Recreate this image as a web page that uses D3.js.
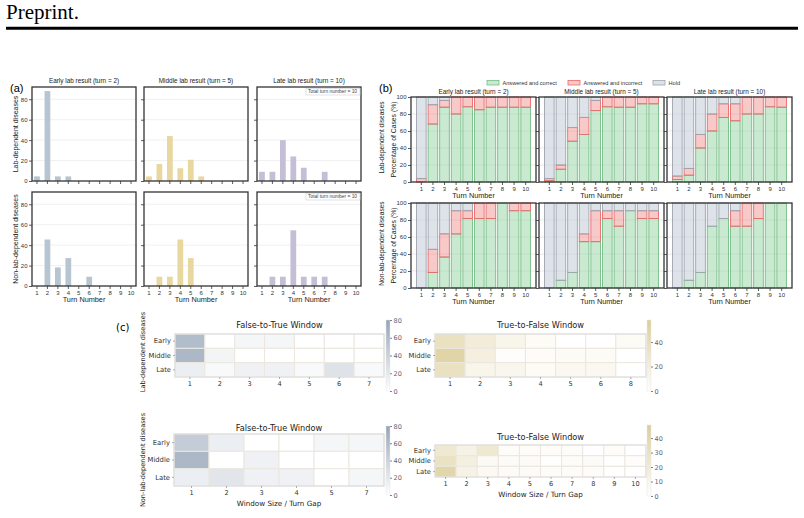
<!DOCTYPE html>
<html>
<head>
<meta charset="utf-8">
<script src="https://cdn.jsdelivr.net/npm/d3@7"></script>
<style>body{margin:0;background:#fff}</style>
</head>
<body>
<div id="chart"></div>
<script>
// ---- data ----
var turns = [1, 2, 3, 4, 5, 6, 7, 8, 9, 10];
var stages = ["Early", "Middle", "Late"];
var stageTitles = ["Early lab result (turn = 2)", "Middle lab result (turn = 5)", "Late lab result (turn = 10)"];
var groupNames = ["Lab-dependent diseases", "Non-lab-dependent diseases"];

// (a) turn of first correct answer (% of cases)
var firstLabEarly  = [4.5, 88, 4.5, 4.5, 0, 0, 0, 0, 0, 0];
var firstLabMiddle = [4.5, 16.7, 44, 12.5, 20.8, 4.5, 0, 0, 0, 0];
var firstLabLate   = [9, 9, 40, 24, 13, 0, 9, 0, 0, 0];
var firstNonEarly  = [0, 45.5, 18.2, 27.3, 0, 9.1, 0, 0, 0, 0];
var firstNonMiddle = [0, 9.1, 9.1, 45.5, 27.3, 0, 0, 0, 0, 0];
var firstNonLate   = [0, 9.1, 9.1, 54.5, 9.1, 9.1, 9.1, 0, 0, 0];

// (b) answer status per turn (%)
var labCorrect = [
  [0, 68.2, 88, 80, 88.5, 85, 88, 88, 88, 88],
  [1.5, 15, 48, 56, 84, 88.5, 88, 88, 92, 92],
  [3, 8, 40, 60, 76, 72, 80, 80, 88.5, 88]
];
var labIncorrect = [
  [4, 22.7, 8, 20, 11.5, 15, 12, 12, 12, 12],
  [2.5, 5, 16, 20, 12, 11.5, 12, 12, 8, 8],
  [4, 8, 16, 20, 16, 20, 20, 20, 11.5, 12]
];
var labHold = [
  [96, 9.1, 4, 0, 0, 0, 0, 0, 0, 0],
  [96, 80, 36, 24, 4, 0, 0, 0, 0, 0],
  [93, 84, 44, 20, 8, 8, 0, 0, 0, 0]
];
var nonCorrect = [
  [0, 18.2, 36.4, 63.6, 81.8, 81.8, 81.8, 100, 90.9, 90.9],
  [0, 9.1, 18.2, 54.5, 54.5, 81.8, 72.7, 90.9, 81.8, 81.8],
  [0, 9.1, 18.2, 72.7, 81.8, 72.7, 72.7, 81.8, 100, 100]
];
var nonIncorrect = [
  [0, 27.3, 27.3, 27.3, 9.1, 18.2, 18.2, 0, 9.1, 9.1],
  [0, 0, 0, 9.1, 36.4, 9.1, 18.2, 0, 9.1, 9.1],
  [0, 0, 0, 0, 0, 18.2, 27.3, 18.2, 0, 0]
];
var nonHold = [
  [100, 54.5, 36.3, 9.1, 9.1, 0, 0, 0, 0, 0],
  [100, 90.9, 81.8, 36.4, 9.1, 9.1, 9.1, 9.1, 9.1, 9.1],
  [100, 90.9, 81.8, 27.3, 18.2, 9.1, 0, 0, 0, 0]
];
var statusKeys = ["correct", "incorrect", "hold"];
var statusNames = ["Answered and correct", "Answered and incorrect", "Hold"];

// (c) transition windows
var ftLabCols = [1, 2, 3, 4, 5, 6, 7];
var ftLab = [[58, 0, 8, 8, 0, 0, 0], [62, 10, 0, 0, 0, 0, 0], [14, 5, 12, 12, 5, 25, 5]];
var tfLabCols = [1, 2, 3, 4, 5, 6, 8];
var tfLab = [[35, 22, 12, 5, 0, 0, 5], [50, 18, 2, 4, 5, 5, 0], [35, 12, 10, 5, 8, 8, 0]];
var ftNonCols = [1, 2, 3, 4, 5, 7];
var ftNon = [[45, 15, 0, 0, 8, 8], [62, 0, 12, 0, 0, 0], [15, 22, 12, 12, 0, 8]];
var tfNonCols = [1, 2, 3, 4, 5, 6, 7, 8, 9, 10];
var tfNon = [[22, 12, 22, 3, 3, 3, 3, 0, 3, 0], [28, 15, 5, 4, 4, 0, 3, 4, 0, 2], [40, 12, 6, 4, 4, 3, 3, 3, 0, 0]];

// ---- setup ----
var fA = "'Liberation Sans', Arial, sans-serif";
var fC = "'DejaVu Sans', sans-serif";
var svg = d3.select("#chart").append("svg")
  .attr("width", 804).attr("height", 518)
  .style("background", "#fff");

function styleAxis(sel, font, size, col) {
  sel.select(".domain").remove();
  sel.selectAll(".tick line").attr("stroke", "#333").attr("stroke-width", 0.8);
  sel.selectAll(".tick text").attr("font-family", font).attr("font-size", size).attr("fill", col || "#333");
}

// header
svg.append("text").attr("x", 6).attr("y", 18.5)
  .attr("font-family", "'Liberation Serif', serif").attr("font-size", 21)
  .text("Preprint.");
svg.append("line").attr("x1", 6).attr("x2", 798).attr("y1", 28.3).attr("y2", 28.3)
  .attr("stroke", "#000").attr("stroke-width", 3);

// ---- (a) ----
var aCols = [32, 144, 257], aRows = [87, 192], aW = 104, aH = 94;
var aColors = ["#b7c5d1", "#e9d7a0", "#c4bed6"];
var aData = [[firstLabEarly, firstLabMiddle, firstLabLate], [firstNonEarly, firstNonMiddle, firstNonLate]];
var aX = d3.scaleBand().domain(turns).range([0, aW]).paddingInner(0.45).paddingOuter(0.2);
var aY = d3.scaleLinear().domain([0, 92]).range([aH, 0]);

svg.append("text").attr("x", 10).attr("y", 92).attr("font-family", fA).attr("font-size", 11).text("(a)");

aData.forEach(function(row, r) {
  row.forEach(function(vals, c) {
    var g = svg.append("g").attr("transform", "translate(" + aCols[c] + "," + aRows[r] + ")");
    g.selectAll(".grid").data([20, 40, 60, 80]).enter().append("line")
      .attr("x1", 0).attr("x2", aW).attr("y1", aY).attr("y2", aY)
      .attr("stroke", "#ececec").attr("stroke-width", 0.8);
    g.selectAll(".bar").data(vals).enter().append("rect")
      .attr("x", function(d, i) { return aX(turns[i]); })
      .attr("y", function(d) { return aY(d); })
      .attr("width", aX.bandwidth())
      .attr("height", function(d) { return aH - aY(d); })
      .attr("fill", aColors[c]);
    var ax = d3.axisBottom(aX).tickSize(3).tickPadding(1.5);
    if (r === 0) ax.tickFormat("");
    g.append("g").attr("transform", "translate(0," + aH + ")").call(ax).call(styleAxis, fA, 6);
    var ay = d3.axisLeft(aY).tickValues([0, 20, 40, 60, 80]).tickSize(3).tickPadding(1.5);
    if (c > 0) ay.tickFormat("");
    g.append("g").call(ay).call(styleAxis, fA, 6);
    g.append("rect").attr("width", aW).attr("height", aH)
      .attr("fill", "none").attr("stroke", "#333").attr("stroke-width", 1.3);
    if (r === 0) {
      g.append("text").attr("x", aW / 2).attr("y", -4).attr("text-anchor", "middle")
        .attr("font-family", fA).attr("font-size", 6.4).attr("fill", "#222").text(stageTitles[c]);
    } else {
      g.append("text").attr("x", aW / 2).attr("y", aH + 15.5).attr("text-anchor", "middle")
        .attr("font-family", fA).attr("font-size", 7.3).attr("fill", "#222").text("Turn Number");
    }
    if (c === 2) {
      var lg = g.append("g").attr("transform", "translate(" + (aW - 55) + ",1.5)");
      lg.append("rect").attr("width", 54).attr("height", 6.5).attr("fill", "#fff")
        .attr("stroke", "#c9d1dc").attr("stroke-width", 0.6);
      lg.append("text").attr("x", 2).attr("y", 4.9).attr("font-family", fA)
        .attr("font-size", 4.9).attr("fill", "#444").text("Total turn number = 10");
    }
    if (c === 0) {
      svg.append("text").attr("transform", "translate(16," + (aRows[r] + aH / 2) + ") rotate(-90)")
        .attr("text-anchor", "middle").attr("dy", "0.35em")
        .attr("font-family", fA).attr("font-size", 7).attr("fill", "#222").text(groupNames[r]);
    }
  });
});

// ---- (b) ----
var bCols = [411, 539, 667], bRows = [97, 203], bW = 125, bH = 85;
var bX = d3.scaleBand().domain(turns).range([0, bW]).paddingInner(0.1).paddingOuter(0.44);
var bY = d3.scaleLinear().domain([0, 100]).range([bH, 0]);
var bFill = { correct: "#93d3a1", incorrect: "#f08e8e", hold: "#c3ccd9" };
var bEdge = { correct: "#76bd86", incorrect: "#e86b6b", hold: "#9ea4ae" };
var bOpacity = { correct: 0.5, incorrect: 0.48, hold: 0.55 };
var bData = [[labCorrect, labIncorrect, labHold], [nonCorrect, nonIncorrect, nonHold]];
var stack = d3.stack().keys(statusKeys);

svg.append("text").attr("x", 379).attr("y", 92).attr("font-family", fA).attr("font-size", 11).text("(b)");

// legend
var legX = [487, 568, 653];
statusKeys.forEach(function(k, i) {
  svg.append("rect").attr("x", legX[i]).attr("y", 80.5).attr("width", 12).attr("height", 4.5)
    .attr("fill", bFill[k]).attr("fill-opacity", bOpacity[k])
    .attr("stroke", bEdge[k]).attr("stroke-width", 0.8);
  svg.append("text").attr("x", legX[i] + 15.5).attr("y", 85).attr("font-family", fA)
    .attr("font-size", 5.6).attr("fill", "#333").text(statusNames[i]);
});

bData.forEach(function(grp, r) {
  stages.forEach(function(s, c) {
    var rows = turns.map(function(t, i) {
      return { turn: t, correct: grp[0][c][i], incorrect: grp[1][c][i], hold: grp[2][c][i] };
    });
    var series = stack(rows);
    var g = svg.append("g").attr("transform", "translate(" + bCols[c] + "," + bRows[r] + ")");
    g.selectAll(".grid").data([20, 40, 60, 80]).enter().append("line")
      .attr("x1", 0).attr("x2", bW).attr("y1", bY).attr("y2", bY)
      .attr("stroke", "#e4e4e4").attr("stroke-width", 0.8);
    g.selectAll(".ser").data(series).enter().append("g")
      .attr("fill", function(d) { return bFill[d.key]; })
      .attr("fill-opacity", function(d) { return bOpacity[d.key]; })
      .attr("stroke", function(d) { return bEdge[d.key]; })
      .attr("stroke-width", 0.9)
      .selectAll("rect").data(function(d) { return d.filter(function(p) { return p[1] - p[0] > 0; }); })
      .enter().append("rect")
      .attr("x", function(d) { return bX(d.data.turn) + 0.4; })
      .attr("y", function(d) { return bY(d[1]); })
      .attr("width", bX.bandwidth() - 0.8)
      .attr("height", function(d) { return bY(d[0]) - bY(d[1]); });
    var ax = d3.axisBottom(bX).tickSize(3).tickPadding(1.5);
    g.append("g").attr("transform", "translate(0," + bH + ")").call(ax).call(styleAxis, fA, 6);
    var ay = d3.axisLeft(bY).tickValues([0, 20, 40, 60, 80, 100]).tickSize(3).tickPadding(1.5);
    if (c > 0) ay.tickFormat("");
    g.append("g").call(ay).call(styleAxis, fA, 6);
    g.append("rect").attr("width", bW).attr("height", bH)
      .attr("fill", "none").attr("stroke", "#333").attr("stroke-width", 1.3);
    g.append("text").attr("x", bW / 2).attr("y", bH + 15.5).attr("text-anchor", "middle")
      .attr("font-family", fA).attr("font-size", 7.3).attr("fill", "#222").text("Turn Number");
    if (r === 0) {
      g.append("text").attr("x", bW / 2).attr("y", -3).attr("text-anchor", "middle")
        .attr("font-family", fA).attr("font-size", 6.4).attr("fill", "#222").text(stageTitles[c]);
    }
    if (c === 0) {
      svg.append("text").attr("transform", "translate(382," + (bRows[r] + bH / 2 - 2) + ") rotate(-90)")
        .attr("text-anchor", "middle").attr("dy", "0.35em")
        .attr("font-family", fA).attr("font-size", 6.6).attr("fill", "#222").text(groupNames[r]);
      svg.append("text").attr("transform", "translate(394," + (bRows[r] + bH / 2) + ") rotate(-90)")
        .attr("text-anchor", "middle").attr("dy", "0.35em")
        .attr("font-family", fA).attr("font-size", 6.8).attr("fill", "#222").text("Percentage of Cases (%)");
    }
  });
});

// ---- (c) ----
svg.append("text").attr("x", 116).attr("y", 331).attr("font-family", fC).attr("font-size", 10).text("(c)");

var heatmaps = [
  { x: 175, y: 334, w: 209, h: 43, cols: ftLabCols, vals: ftLab, max: 80, hi: "#95a4b7",
    ticks: [0, 20, 40, 60, 80], title: "False-to-True Window", titleY: 328, cbX: 386, cbY: 320, cbH: 71, xlabel: false },
  { x: 435, y: 334, w: 211, h: 43, cols: tfLabCols, vals: tfLab, max: 58, hi: "#dccd98",
    ticks: [0, 20, 40], title: "True-to-False Window", titleY: 328, cbX: 647, cbY: 320, cbH: 71, xlabel: false },
  { x: 174, y: 434, w: 210, h: 52, cols: ftNonCols, vals: ftNon, max: 80, hi: "#95a4b7",
    ticks: [0, 20, 40, 60, 80], title: "False-to-True Window", titleY: 431, cbX: 386, cbY: 426, cbH: 69, xlabel: true },
  { x: 435, y: 445, w: 211, h: 32, cols: tfNonCols, vals: tfNon, max: 49, hi: "#dccd98",
    ticks: [0, 10, 20, 30, 40], title: "True-to-False Window", titleY: 440, cbX: 647, cbY: 425, cbH: 71, xlabel: true }
];
var defs = svg.append("defs");

heatmaps.forEach(function(hm, k) {
  var x = d3.scaleBand().domain(hm.cols).range([0, hm.w]);
  var y = d3.scaleBand().domain(stages).range([0, hm.h]);
  var color = d3.scaleSequential(d3.interpolateRgb("#ffffff", hm.hi)).domain([0, hm.max]);
  var g = svg.append("g").attr("transform", "translate(" + hm.x + "," + hm.y + ")");
  var cells = [];
  hm.vals.forEach(function(row, ri) {
    row.forEach(function(v, ci) { cells.push({ r: stages[ri], c: hm.cols[ci], v: v }); });
  });
  g.selectAll("rect.cell").data(cells).enter().append("rect")
    .attr("x", function(d) { return x(d.c); })
    .attr("y", function(d) { return y(d.r); })
    .attr("width", x.bandwidth()).attr("height", y.bandwidth())
    .attr("fill", function(d) { return color(d.v); })
    .attr("stroke", "#ebe7df").attr("stroke-width", 1);
  g.append("rect").attr("width", hm.w).attr("height", hm.h).attr("fill", "none")
    .attr("stroke", "#dcdcdc").attr("stroke-width", 1);
  g.append("g").attr("transform", "translate(0," + hm.h + ")")
    .call(d3.axisBottom(x).tickSize(2).tickPadding(2)).call(styleAxis, fC, 6.6, "#333")
    .selectAll(".tick line").attr("stroke", "#999");
  g.append("g").call(d3.axisLeft(y).tickSize(2).tickPadding(2)).call(styleAxis, fC, 6.8, "#333")
    .selectAll(".tick line").attr("stroke", "#999");
  g.append("text").attr("x", hm.w / 2).attr("y", hm.titleY - hm.y).attr("text-anchor", "middle")
    .attr("font-family", fC).attr("font-size", 8.2).attr("fill", "#222").text(hm.title);
  if (hm.xlabel) {
    g.append("text").attr("x", hm.w / 2).attr("y", hm.h + 20).attr("text-anchor", "middle")
      .attr("font-family", fC).attr("font-size", 7.2).attr("fill", "#222").text("Window Size / Turn Gap");
  }
  // colorbar
  var gid = "cb" + k;
  var grad = defs.append("linearGradient").attr("id", gid)
    .attr("x1", 0).attr("y1", 1).attr("x2", 0).attr("y2", 0);
  d3.range(0, 1.01, 0.1).forEach(function(t) {
    grad.append("stop").attr("offset", t).attr("stop-color", color(t * hm.max));
  });
  var cy = d3.scaleLinear().domain([0, hm.max]).range([hm.cbY + hm.cbH, hm.cbY]);
  svg.append("rect").attr("x", hm.cbX).attr("y", hm.cbY).attr("width", 4).attr("height", hm.cbH)
    .attr("fill", "url(#" + gid + ")").attr("stroke", "#e6e6e6").attr("stroke-width", 0.5);
  svg.append("g").attr("transform", "translate(" + (hm.cbX + 4) + ",0)")
    .call(d3.axisRight(cy).tickValues(hm.ticks).tickSize(2).tickPadding(1.5))
    .call(styleAxis, fC, 6.5, "#5b6479")
    .selectAll(".tick line").attr("stroke", "#5b6479");
});

svg.append("text").attr("transform", "translate(143,352) rotate(-90)")
  .attr("text-anchor", "middle").attr("dy", "0.35em")
  .attr("font-family", fC).attr("font-size", 6.6).attr("fill", "#222").text(groupNames[0]);
svg.append("text").attr("transform", "translate(143,460) rotate(-90)")
  .attr("text-anchor", "middle").attr("dy", "0.35em")
  .attr("font-family", fC).attr("font-size", 6.6).attr("fill", "#222").text(groupNames[1]);
</script>
</body>
</html>
